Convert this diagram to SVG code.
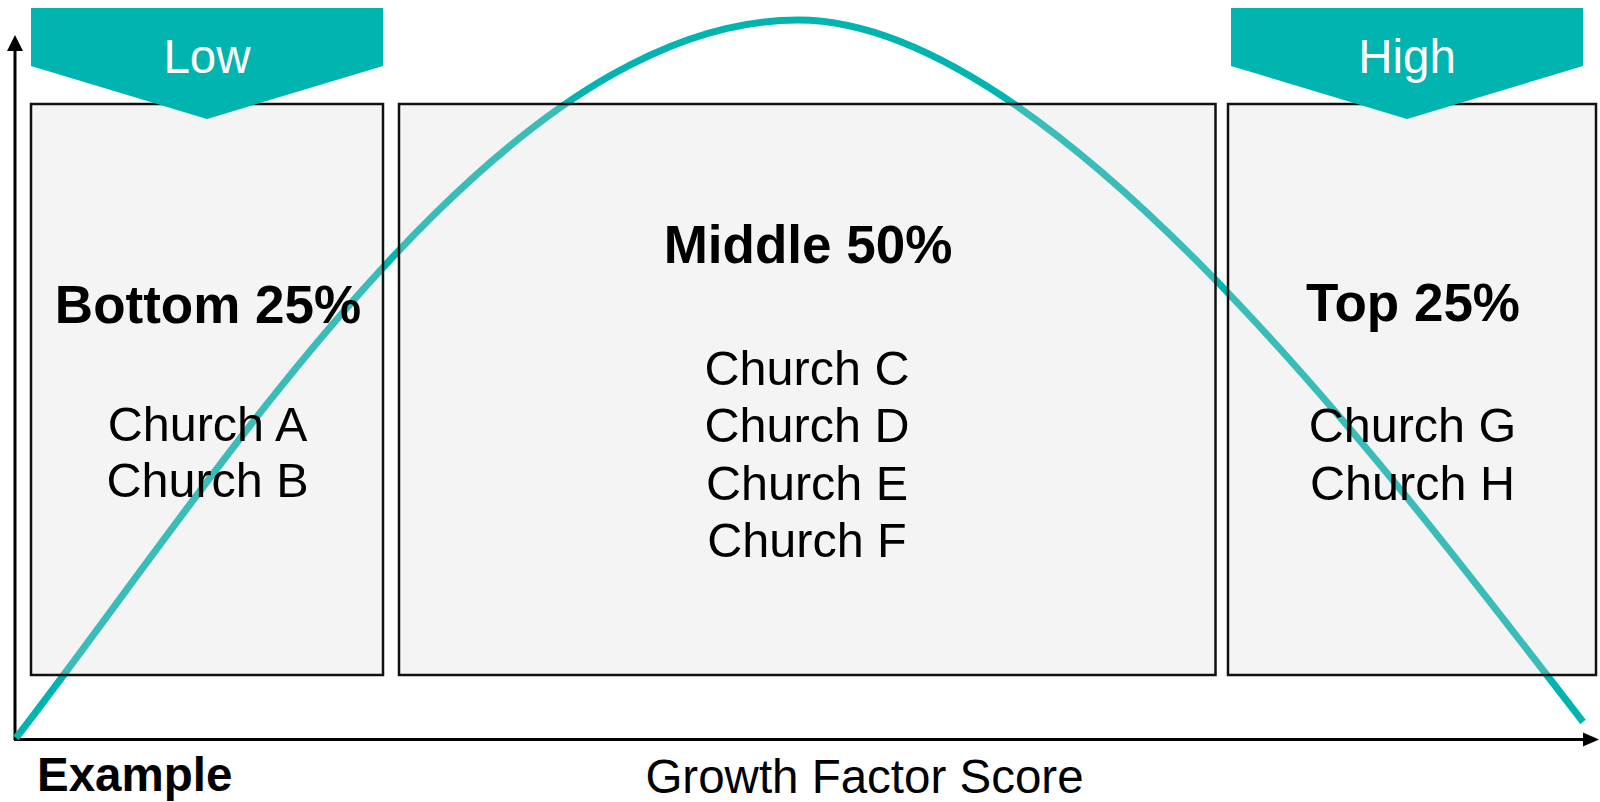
<svg xmlns="http://www.w3.org/2000/svg" width="1600" height="802" viewBox="0 0 1600 802">
  <style>
    .box { fill: #d6d6d6; fill-opacity: 0.27; stroke: #111; stroke-width: 2.5; }
    .tag { fill: #00b4af; }
    .tagtxt { font-family: "Liberation Sans", Arial, sans-serif; font-size: 47.5px; fill: #ffffff; text-anchor: middle; }
    .head { font-family: "Liberation Sans", Arial, sans-serif; font-size: 53px; font-weight: bold; fill: #000; text-anchor: middle; }
    .item { font-family: "Liberation Sans", Arial, sans-serif; font-size: 48.5px; fill: #000; text-anchor: middle; }
    .axis { stroke: #000; stroke-width: 3; fill: none; }
    .axlabel { font-family: "Liberation Sans", Arial, sans-serif; font-size: 47.5px; fill: #000; }
    .curve { fill: none; stroke: #00b4af; stroke-width: 7; }
  </style>

  <g id="connectors">
    <line class="axis" x1="15" y1="740" x2="15" y2="48"/>
    <polygon points="15,35 7,51 23,51" fill="#000"/>
    <line class="axis" x1="14" y1="739.5" x2="1586" y2="739.5"/>
    <polygon points="1599,739.5 1583,732.5 1583,746.5" fill="#000"/>
    <path class="curve" d="M16,738 C216,480 498,20 798,20 C1048,20 1383,462 1583,722"/>
  </g>

  <g id="bottom">
    <rect class="box" x="31" y="104" width="352" height="571"/>
    <text class="head" x="208" y="323">Bottom 25%</text>
    <text class="item" x="207.5" y="441">Church A</text>
    <text class="item" x="207.5" y="497">Church B</text>
  </g>

  <g id="middle">
    <rect class="box" x="399" y="104" width="816.5" height="571"/>
    <text class="head" x="808" y="263">Middle 50%</text>
    <text class="item" x="807" y="385">Church C</text>
    <text class="item" x="807" y="442">Church D</text>
    <text class="item" x="807" y="500">Church E</text>
    <text class="item" x="807" y="557">Church F</text>
  </g>

  <g id="top">
    <rect class="box" x="1228" y="104" width="368" height="571"/>
    <text class="head" x="1413" y="321">Top 25%</text>
    <text class="item" x="1412.5" y="442">Church G</text>
    <text class="item" x="1412.5" y="500">Church H</text>
  </g>

  <g id="low">
    <polygon class="tag" points="31,8 383,8 383,66 207,119 31,66"/>
    <text class="tagtxt" x="207" y="73">Low</text>
  </g>

  <g id="high">
    <polygon class="tag" points="1231,8 1583,8 1583,66 1407,119 1231,66"/>
    <text class="tagtxt" x="1407" y="73">High</text>
  </g>

  <g id="labels">
    <text class="axlabel" x="864.5" y="793" text-anchor="middle">Growth Factor Score</text>
    <text class="axlabel" x="37" y="791" font-weight="bold" font-size="48">Example</text>
  </g>
</svg>
